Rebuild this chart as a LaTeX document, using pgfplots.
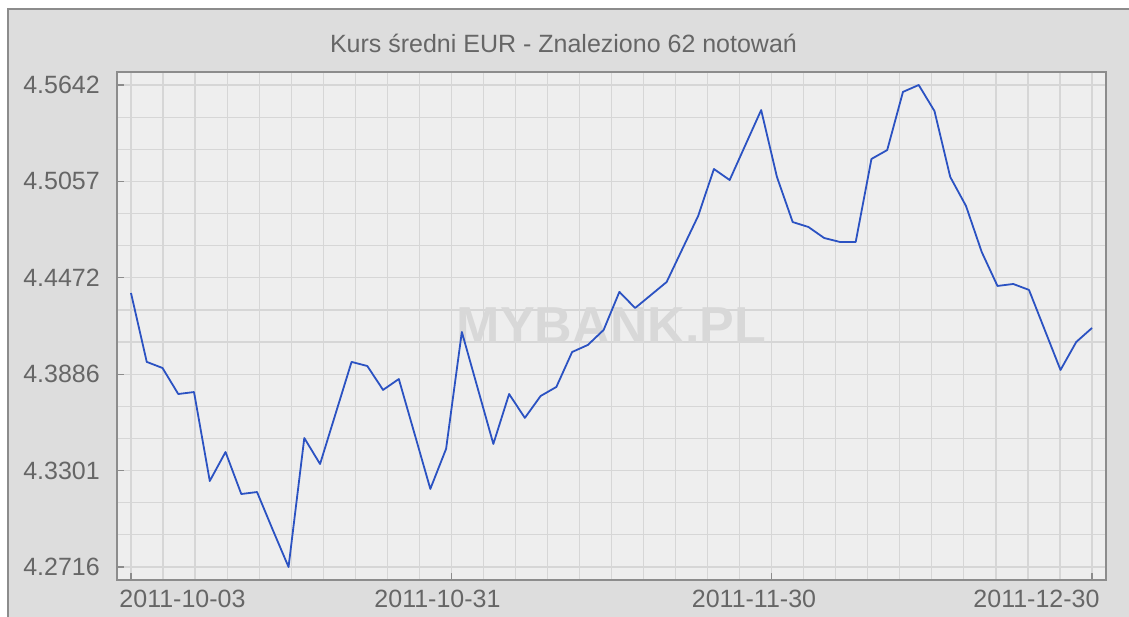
\documentclass[border=0pt]{standalone}
\usepackage{fontspec}
\setmainfont{Liberation Sans}
\usepackage{pgfplots}
\pgfplotsset{compat=1.18}
\definecolor{outerbg}{HTML}{DDDDDD}
\definecolor{plotbg}{HTML}{EEEEEE}
\definecolor{gridc}{HTML}{D6D6D6}
\definecolor{framec}{HTML}{8C8C8C}
\definecolor{txt}{HTML}{666666}
\definecolor{linec}{HTML}{2B52C2}
\definecolor{wm}{HTML}{D8D8D8}
\newcommand{\lbl}{\fontsize{25bp}{30bp}\selectfont}
\begin{document}
\begin{tikzpicture}[x=1bp,y=1bp]
\fill[white] (-117,-37) rectangle (1012,580);
\useasboundingbox (-117,-37) rectangle (1012,580);
\fill[outerbg] (-109,-37) rectangle (1012,571);
\draw[framec, line width=1.3bp] (-109,-37) -- (-109,571) -- (1012,571);
\begin{axis}[
 at={(0,0)}, anchor=south west,
 scale only axis, width=989bp, height=508bp,
 xmin=-0.889, xmax=61.889, ymin=4.2637, ymax=4.5721,
 axis background/.style={fill=plotbg},
 axis line style={framec, line width=1.3bp},
 xtick={0,20.3333,40.6667,61}, xticklabels={},
 ytick={4.2716,4.3301,4.3886,4.4472,4.5057,4.5642},
 yticklabels={4.2716,4.3301,4.3886,4.4472,4.5057,4.5642},
 minor xtick={0,2.03333,...,61.1},
 minor ytick={4.2716,4.291107,...,4.5650},
 grid=both,
 major grid style={draw=none},
 minor grid style={gridc, line width=1.2bp},
 tick align=inside, xtick pos=left, ytick pos=left,
 major tick length=7bp, minor tick length=0.01bp,
 major tick style={framec, line width=1.2bp},
 minor tick style={gridc, line width=0.1bp},
 yticklabel style={font=\lbl, text=txt, inner sep=0pt, xshift=-17bp},
]
\node[font=\fontsize{52bp}{54bp}\selectfont\bfseries, text=wm] at (rel axis cs:0.5,0.5) {MYBANK.PL};
\addplot[linec, line width=1.8bp, line join=round, mark=none] coordinates {
(0,4.4379) (1,4.3961) (2,4.3924) (3,4.3766) (4,4.3778) (5,4.3238) (6,4.3414) (7,4.3159) (8,4.3171) (9,4.2941) (10,4.2716) (11,4.3499) (12,4.3341) (13,4.3651) (14,4.3961) (15,4.3936) (16,4.3791) (17,4.3857) (18,4.3524) (19,4.3190) (20,4.3433) (21,4.4143) (22,4.3803) (23,4.3463) (24,4.3766) (25,4.3621) (26,4.3754) (27,4.3809) (28,4.4021) (29,4.4064) (30,4.4155) (31,4.4386) (32,4.4288) (33,4.4367) (34,4.4446) (35,4.4647) (36,4.4847) (37,4.5132) (38,4.5065) (39,4.5278) (40,4.5490) (41,4.5084) (42,4.4810) (43,4.4780) (44,4.4713) (45,4.4689) (46,4.4689) (47,4.5193) (48,4.5247) (49,4.5600) (50,4.5642) (51,4.5484) (52,4.5084) (53,4.4908) (54,4.4628) (55,4.4422) (56,4.4434) (57,4.4398) (58,4.4155) (59,4.3912) (60,4.4082) (61,4.4167)
};
\end{axis}
\node[font=\lbl, text=txt, anchor=base] at (446.5,527) {Kurs średni EUR - Znaleziono 62 notowań};
\node[font=\lbl, text=txt, anchor=base] at (65.5,-28) {2011-10-03};
\node[font=\lbl, text=txt, anchor=base] at (320.5,-28) {2011-10-31};
\node[font=\lbl, text=txt, anchor=base] at (637,-28) {2011-11-30};
\node[font=\lbl, text=txt, anchor=base] at (919.5,-28) {2011-12-30};
\end{tikzpicture}
\end{document}
